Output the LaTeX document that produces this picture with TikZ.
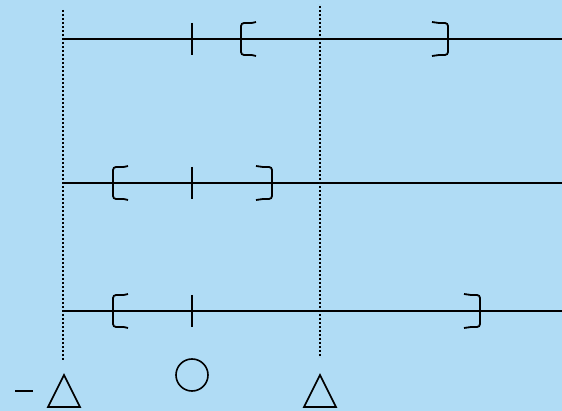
\documentclass[tikz,border=0pt]{standalone}
\definecolor{bg}{RGB}{176,220,245}
\begin{document}
\begin{tikzpicture}[x=1pt,y=-1pt,
  axis/.style={line width=1.8pt,black},
  guide/.style={line width=1.1pt,dash pattern=on 1.6pt off 2.4pt,black},
  tickmark/.style={line width=1.8pt},
  brk/.style={line width=1.8pt,rounded corners=3pt},
  sym/.style={line width=1.6pt}]
\fill[bg] (0,0) rectangle (562,411);
\useasboundingbox (0,0) rectangle (562,411);
% coordinates
\coordinate (gA) at (63,10);  \coordinate (gAb) at (63,360);
\coordinate (gB) at (320,6);  \coordinate (gBb) at (320,356);
\foreach \n/\y in {1/39,2/183,3/311}{
  \coordinate (s\n) at (63,\y);
  \coordinate (e\n) at (562,\y);
}
\draw[guide] (gA) -- (gAb);
\draw[guide] (gB) -- (gBb);
\draw[axis] (s1) -- (e1);
\draw[axis] (s2) -- (e2);
\draw[axis] (s3) -- (e3);
% ticks at x=192
\foreach \y in {39,183,311}{
  \draw[tickmark] (192,\y-16) -- (192,\y+16);
}
% left brackets
\foreach \x/\y in {241/39,113/183,113/311}{
  \draw[brk] (\x+15,\y-17) .. controls (\x+11,\y-16) .. (\x+6,\y-16) -- (\x,\y-16) -- (\x,\y+16) -- (\x+6,\y+16) .. controls (\x+11,\y+16) .. (\x+15,\y+17);
}
% right brackets
\foreach \x/\y in {448/39,272/183,480/311}{
  \draw[brk] (\x-16,\y-17) .. controls (\x-12,\y-16) .. (\x-6,\y-16) -- (\x,\y-16) -- (\x,\y+16) -- (\x-6,\y+16) .. controls (\x-12,\y+16) .. (\x-16,\y+17);
}
% bottom symbols
\coordinate (m1) at (15,391); \coordinate (m2) at (33,391);
\draw[sym] (m1) -- (m2);
\draw[sym,line join=miter] (48,407) -- (64,375) -- (80,407) -- cycle;
\draw[sym] (192,375) circle (16);
\draw[sym,line join=miter] (304,407) -- (320,375) -- (336,407) -- cycle;
\end{tikzpicture}
\end{document}
